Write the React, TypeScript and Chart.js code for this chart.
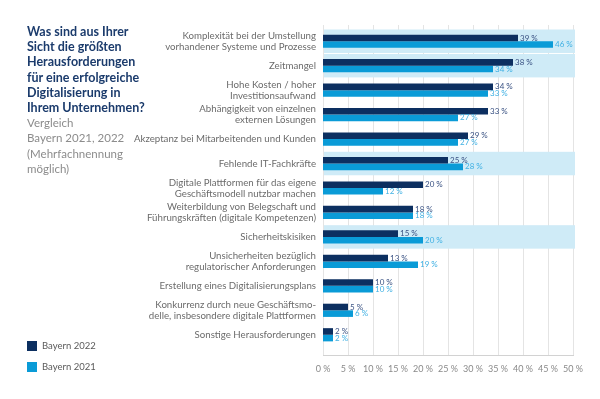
import React, { useEffect, useRef } from "react";
import { Chart, registerables } from "chart.js";

Chart.register(...registerables);

const categories: (string | string[])[] = [
  ["Komplexität bei der Umstellung", "vorhandener Systeme und Prozesse"],
  "Zeitmangel",
  ["Hohe Kosten / hoher", "Investitionsaufwand"],
  ["Abhängigkeit von einzelnen", "externen Lösungen"],
  "Akzeptanz bei Mitarbeitenden und Kunden",
  "Fehlende IT-Fachkräfte",
  ["Digitale Plattformen für das eigene", "Geschäftsmodell nutzbar machen"],
  ["Weiterbildung von Belegschaft und", "Führungskräften (digitale Kompetenzen)"],
  "Sicherheitskisiken",
  ["Unsicherheiten bezüglich", "regulatorischer Anforderungen"],
  "Erstellung eines Digitalisierungsplans",
  ["Konkurrenz durch neue Geschäftsmo-", "delle, insbesondere digitale Plattformen"],
  "Sonstige Herausforderungen",
];

const bayern2022: number[] = [39, 38, 34, 33, 29, 25, 20, 18, 15, 13, 10, 5, 2];
const bayern2021: number[] = [46, 34, 33, 27, 27, 28, 12, 18, 20, 19, 10, 6, 2];
const highlightedRows: number[] = [0, 1, 5, 8];
const xTickValues: number[] = [0, 5, 10, 15, 20, 25, 30, 35, 40, 45, 50];

const titleLines: string[] = [
  "Was sind aus Ihrer",
  "Sicht die größten",
  "Herausforderungen",
  "für eine erfolgreiche",
  "Digitalisierung in",
  "Ihrem Unternehmen?",
];
const subtitleLines: string[] = ["Vergleich", "Bayern 2021, 2022", "(Mehrfachnennung", "möglich)"];

const DARK = "#0c2f60";
const LIGHT = "#0a9bd7";
const BAND = "#cfebf7";
const FONT = "Lato, 'Noto Sans', sans-serif";

const bgPlugin = {
  id: "bgPlugin",
  beforeDatasetsDraw(chart: any) {
    const { ctx, chartArea, scales } = chart;
    const x = scales.x;
    const y = scales.y;
    ctx.save();
    const top = chartArea.top - 4;
    const bottom = chartArea.bottom + 8;
    ctx.strokeStyle = "#e4e4e4";
    ctx.lineWidth = 1;
    xTickValues.forEach((v) => {
      const px = Math.round(x.getPixelForValue(v)) + 0.5;
      ctx.beginPath();
      ctx.moveTo(px, top);
      ctx.lineTo(px, bottom);
      ctx.stroke();
    });
    const step = y.getPixelForValue(1) - y.getPixelForValue(0);
    const x0 = Math.round(x.getPixelForValue(0)) + 1;
    ctx.fillStyle = BAND;
    highlightedRows.forEach((i) => {
      const cy = y.getPixelForValue(i);
      ctx.fillRect(x0, cy - step / 2 + 0.5, chartArea.right + 2 - x0, step - 1);
    });
    ctx.strokeStyle = "#d2d2d2";
    ctx.beginPath();
    ctx.moveTo(Math.round(x.getPixelForValue(0)), bottom + 0.5);
    ctx.lineTo(Math.round(x.getPixelForValue(50)) + 1, bottom + 0.5);
    ctx.stroke();
    ctx.restore();
  },
  afterDatasetsDraw(chart: any) {
    const { ctx } = chart;
    ctx.save();
    ctx.font = `8px ${FONT}`;
    ctx.textBaseline = "middle";
    ctx.textAlign = "left";
    const colors = ["#3a5283", "#3fb0e3"];
    chart.data.datasets.forEach((ds: any, di: number) => {
      const meta = chart.getDatasetMeta(di);
      ctx.fillStyle = colors[di];
      meta.data.forEach((el: any, i: number) => {
        ctx.fillText(`${ds.data[i]} %`, el.x + 2, el.y);
      });
    });
    ctx.restore();
  },
};

function BarChart() {
  const ref = useRef<HTMLCanvasElement | null>(null);
  useEffect(() => {
    if (!ref.current) return;
    const chart = new Chart(ref.current, {
      type: "bar",
      data: {
        labels: categories,
        datasets: [
          {
            label: "Bayern 2022",
            data: bayern2022,
            backgroundColor: DARK,
            barPercentage: 1,
            categoryPercentage: 0.54,
          },
          {
            label: "Bayern 2021",
            data: bayern2021,
            backgroundColor: LIGHT,
            barPercentage: 1,
            categoryPercentage: 0.54,
          },
        ],
      },
      options: {
        indexAxis: "y",
        animation: false,
        responsive: false,
        devicePixelRatio: 1,
        layout: { padding: { top: 29, right: 27, left: 0, bottom: 0 } },
        plugins: {
          legend: { display: false },
          tooltip: { enabled: false },
        },
        scales: {
          x: {
            min: 0,
            max: 50,
            grid: { display: false, drawTicks: false },
            border: { display: false },
            ticks: {
              stepSize: 5,
              padding: 17,
              maxRotation: 0,
              minRotation: 0,
              autoSkip: false,
              color: "#8a8a8a",
              font: { family: FONT, size: 9 },
              callback: (v: any) => `${v} %`,
            },
            afterFit: (scale: any) => {
              scale.height = 52;
            },
          },
          y: {
            grid: { display: false, drawTicks: false },
            border: { display: false },
            ticks: {
              padding: 7,
              color: "#6b6b6b",
              font: { family: FONT, size: 9.7, lineHeight: 1.14 },
              autoSkip: false,
            },
            afterFit: (scale: any) => {
              scale.width = 323;
            },
          },
        },
      },
      plugins: [bgPlugin],
    });
    return () => chart.destroy();
  }, []);
  return <canvas ref={ref} width={600} height={399} style={{ position: "absolute", left: 0, top: 0 }} />;
}

export default function App() {
  return (
    <div style={{ position: "fixed", left: 0, top: 0, width: 600, height: 399, background: "#fff", fontFamily: FONT }}>
      <BarChart />
      <div style={{ position: "absolute", left: 27, top: 24, lineHeight: "15.2px" }}>
        {titleLines.map((t) => (
          <div key={t} style={{ color: "#1b3b6c", fontWeight: 700, fontSize: 12.5 }}>{t}</div>
        ))}
        {subtitleLines.map((t) => (
          <div key={t} style={{ color: "#8c8c8c", fontSize: 11.5, fontWeight: 400 }}>{t}</div>
        ))}
      </div>
      <div style={{ position: "absolute", left: 27, top: 340, fontSize: 9.5, color: "#5a5a5a" }}>
        <div style={{ display: "flex", alignItems: "center", height: 11 }}>
          <span style={{ width: 10, height: 10, background: DARK, display: "inline-block", marginRight: 5 }} />
          Bayern 2022
        </div>
        <div style={{ display: "flex", alignItems: "center", height: 11, marginTop: 10 }}>
          <span style={{ width: 10, height: 10, background: LIGHT, display: "inline-block", marginRight: 5 }} />
          Bayern 2021
        </div>
      </div>
    </div>
  );
}
